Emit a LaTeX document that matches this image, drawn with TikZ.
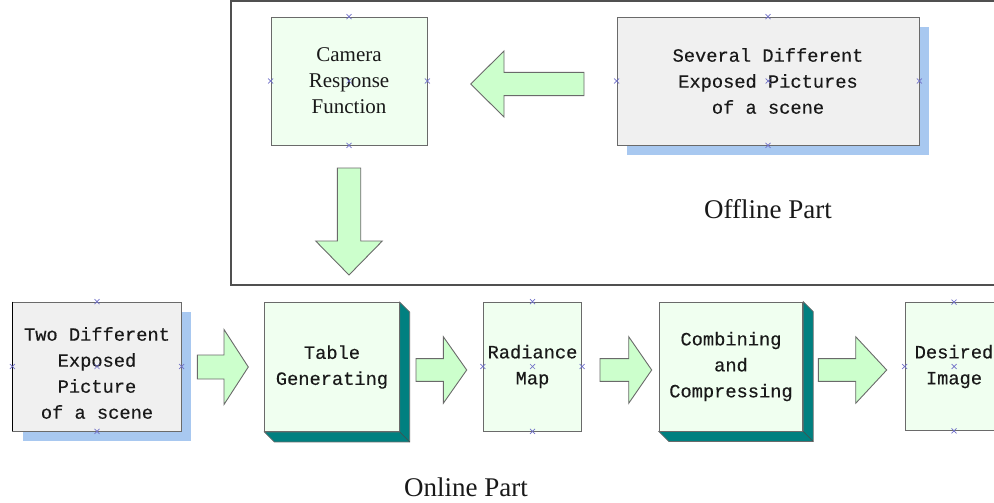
\documentclass[tikz,border=0pt]{standalone}
\usepackage{fontspec}
\setmainfont{Liberation Serif}
\newfontfamily\monofont[FakeBold=0.35]{Liberation Mono}
\usetikzlibrary{calc,shadows,backgrounds}
\definecolor{boxgreen}{HTML}{F0FFF0}
\definecolor{boxgray}{HTML}{F0F0F0}
\definecolor{arrowgreen}{HTML}{CCFFCC}
\definecolor{tealx}{HTML}{008080}
\definecolor{shadowblue}{HTML}{A8C8F0}
\definecolor{bordergray}{HTML}{6A6A6A}
\definecolor{markblue}{HTML}{7070C8}
\definecolor{framegray}{HTML}{505050}
\newcommand{\BlkRight}[6]{% tail x, head base x, tip x, centre y, shaft half, head half
  \draw[blk] (#1,#4-#5) -- (#2,#4-#5) -- (#2,#4-#6) -- (#3,#4) -- (#2,#4+#6) -- (#2,#4+#5) -- (#1,#4+#5) -- cycle;}
\newcommand{\BlkDown}[6]{% tail y, head base y, tip y, centre x, shaft half, head half
  \draw[blk] (#4-#5,#1) -- (#4-#5,#2) -- (#4-#6,#2) -- (#4,#3) -- (#4+#6,#2) -- (#4+#5,#2) -- (#4+#5,#1) -- cycle;}
\begin{document}
\begin{tikzpicture}[x=1pt,y=-1pt,
  box/.style={draw=bordergray, line width=0.9pt, fill=boxgreen, inner sep=0pt, align=center, text=black!90},
  graybox/.style={box, fill=boxgray, drop shadow={shadow xshift=10pt, shadow yshift=-10pt, fill=shadowblue, opacity=1}},
  mono/.style={font=\monofont\fontsize{18.7}{26}\selectfont},
  serifbox/.style={font=\fontsize{21}{26}\selectfont},
  partlabel/.style={font=\fontsize{27}{30}\selectfont, text=black!90, inner sep=0pt},
  blk/.style={draw=bordergray, line width=0.9pt, fill=arrowgreen, line join=miter},
  extr/.style={fill=tealx, draw=bordergray, line width=0.6pt},
  cpx/.style={draw=markblue, line width=0.7pt}
]
\useasboundingbox (0,0) rectangle (994,503);
\begin{scope}
\clip (0,0) rectangle (994,503);
% offline frame
\draw[framegray, line width=1.3pt] (231,1) rectangle (1010,285);

% nodes
\node[box, serifbox, minimum width=156pt, minimum height=128pt] (crf) at (349,81) {Camera\\Response\\Function};
\node[graybox, mono, minimum width=302pt, minimum height=128pt] (sev) at (768,81) {Several Different\\Exposed Pictures\\of a scene};
\node[graybox, minimum width=168.5pt, minimum height=129pt] (two) at (97,366.5) {};
\node[mono, text=black!90, align=center, inner sep=0pt] (twotxt) at (97,373) {Two Different\\Exposed\\Picture\\of a scene};
\node[box, mono, minimum width=134.5pt, minimum height=129pt] (tab) at (332,367) {Table\\Generating};
\node[box, mono, minimum width=98.5pt, minimum height=129pt] (rad) at (532.5,366.5) {Radiance\\Map};
\node[box, mono, minimum width=143.5pt, minimum height=129pt] (com) at (731,366.5) {Combining\\and\\Compressing};
\node[box, mono, minimum width=98pt, minimum height=128pt] (des) at (954,366.5) {Desired\\Image};

\draw[black, line width=1.6pt] (two.north west) -- (two.south west);

% 3D extrusions
\begin{scope}[on background layer]
\foreach \n in {tab,com}{
  \draw[extr] (\n.north east) -- ($(\n.north east)+(10,10)$) -- ($(\n.south east)+(10,10)$)
     -- ($(\n.south west)+(10,10)$) -- (\n.south west) -- (\n.south east) -- cycle;
}
\end{scope}
\foreach \n in {tab,com}{
  \draw[bordergray!70!black, line width=0.6pt] (\n.south east) -- ($(\n.south east)+(10,10)$);
}

% block arrows
\BlkRight{584}{504}{470.7}{84}{11.65}{33}
\BlkDown{168}{241}{275}{349}{11.7}{33.3}
\BlkRight{197.3}{224}{248.3}{367}{12}{37.5}
\BlkRight{416}{443.3}{466.7}{370}{11.35}{33.3}
\BlkRight{600}{628.7}{651.7}{370}{11.35}{33.3}
\BlkRight{818.3}{855.7}{886.7}{370}{11.35}{33.3}

% connection point marks
\foreach \n in {crf,sev,two,rad,des}{
  \foreach \a in {north,south,east,west,center}{
    \draw[cpx] (\n.\a) +(-2.5,-2.5) -- +(2.5,2.5) +(-2.5,2.5) -- +(2.5,-2.5);
  }
}

% part labels
\node[partlabel] (offl) at (768,209) {Offline Part};
\node[partlabel] (onl) at (466,487) {Online Part};
\end{scope}
\end{tikzpicture}
\end{document}
